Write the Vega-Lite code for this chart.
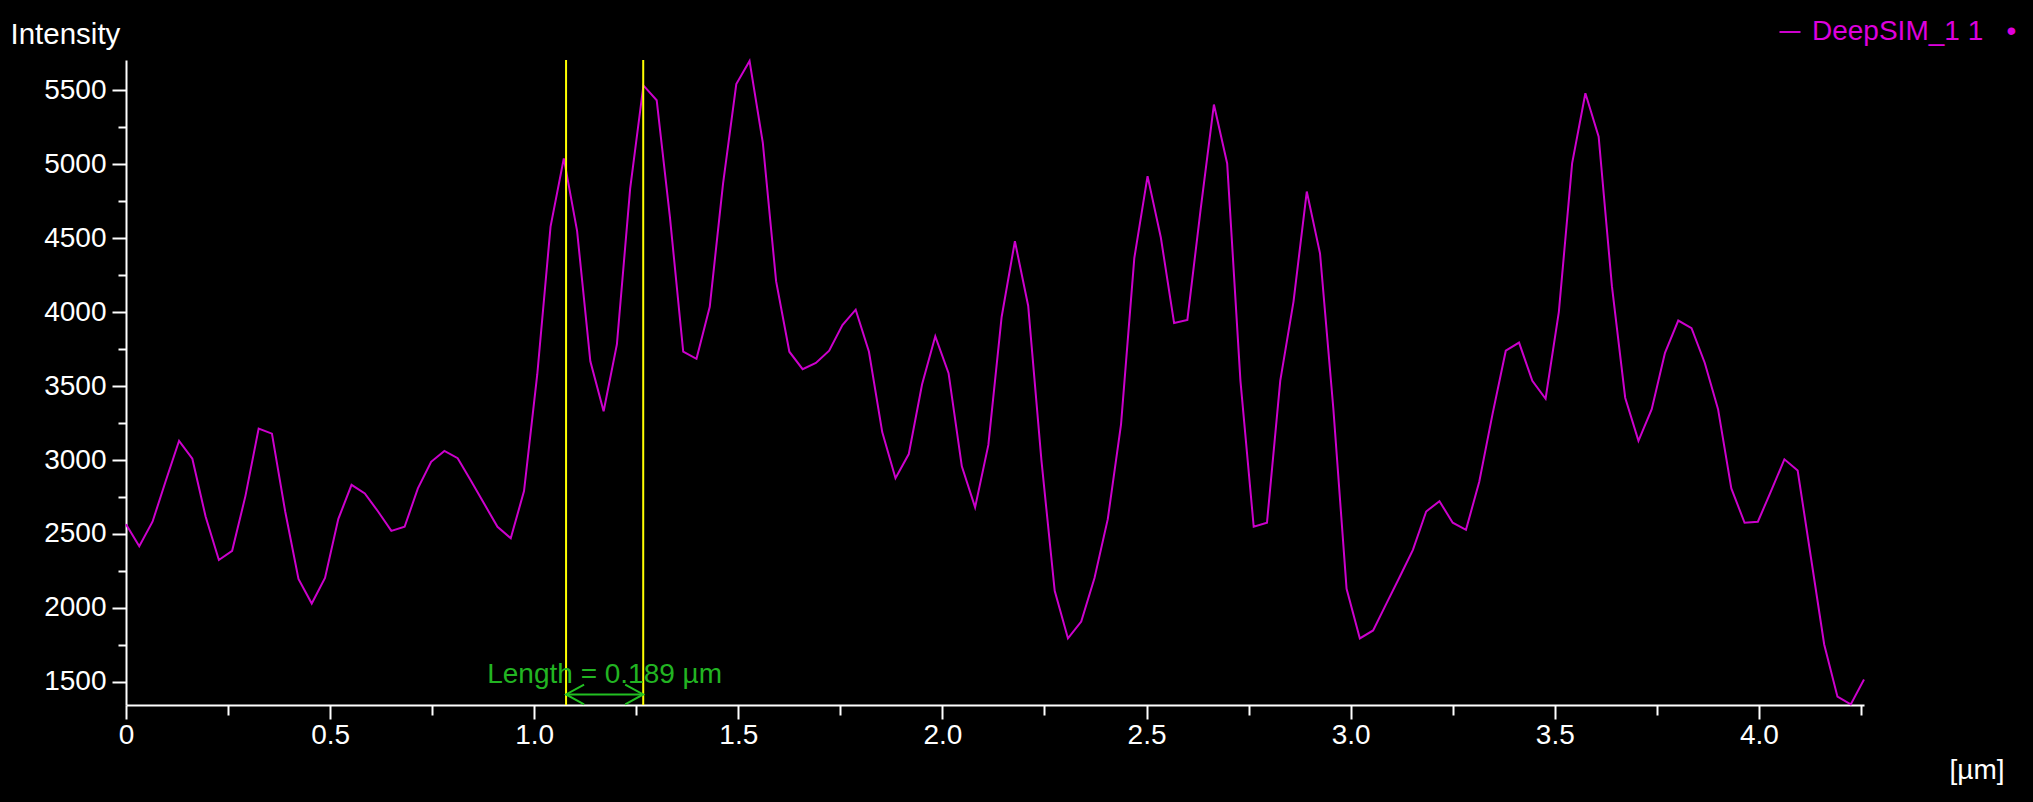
{
  "$schema": "https://vega.github.io/schema/vega-lite/v6.json",
  "background": "#000000",
  "width": 1738,
  "height": 645,
  "autosize": {"type": "none"},
  "padding": {"left": 126, "top": 60, "right": 169, "bottom": 97},
  "config": {
    "view": {"stroke": null},
    "font": "Liberation Sans"
  },
  "datasets": {
    "profile": [
      {"x": 0, "intensity": 2566, "series": "DeepSIM_1 1"},
      {"x": 0.0325, "intensity": 2417, "series": "DeepSIM_1 1"},
      {"x": 0.065, "intensity": 2583, "series": "DeepSIM_1 1"},
      {"x": 0.0975, "intensity": 2860, "series": "DeepSIM_1 1"},
      {"x": 0.13, "intensity": 3130, "series": "DeepSIM_1 1"},
      {"x": 0.1625, "intensity": 3009, "series": "DeepSIM_1 1"},
      {"x": 0.195, "intensity": 2618, "series": "DeepSIM_1 1"},
      {"x": 0.2275, "intensity": 2324, "series": "DeepSIM_1 1"},
      {"x": 0.26, "intensity": 2386, "series": "DeepSIM_1 1"},
      {"x": 0.2925, "intensity": 2756, "series": "DeepSIM_1 1"},
      {"x": 0.325, "intensity": 3213, "series": "DeepSIM_1 1"},
      {"x": 0.3575, "intensity": 3178, "series": "DeepSIM_1 1"},
      {"x": 0.39, "intensity": 2652, "series": "DeepSIM_1 1"},
      {"x": 0.4225, "intensity": 2196, "series": "DeepSIM_1 1"},
      {"x": 0.455, "intensity": 2030, "series": "DeepSIM_1 1"},
      {"x": 0.4875, "intensity": 2203, "series": "DeepSIM_1 1"},
      {"x": 0.52, "intensity": 2601, "series": "DeepSIM_1 1"},
      {"x": 0.5525, "intensity": 2832, "series": "DeepSIM_1 1"},
      {"x": 0.585, "intensity": 2774, "series": "DeepSIM_1 1"},
      {"x": 0.6175, "intensity": 2652, "series": "DeepSIM_1 1"},
      {"x": 0.65, "intensity": 2521, "series": "DeepSIM_1 1"},
      {"x": 0.6825, "intensity": 2549, "series": "DeepSIM_1 1"},
      {"x": 0.715, "intensity": 2808, "series": "DeepSIM_1 1"},
      {"x": 0.7475, "intensity": 2988, "series": "DeepSIM_1 1"},
      {"x": 0.78, "intensity": 3061, "series": "DeepSIM_1 1"},
      {"x": 0.8125, "intensity": 3012, "series": "DeepSIM_1 1"},
      {"x": 0.845, "intensity": 2860, "series": "DeepSIM_1 1"},
      {"x": 0.8775, "intensity": 2704, "series": "DeepSIM_1 1"},
      {"x": 0.91, "intensity": 2549, "series": "DeepSIM_1 1"},
      {"x": 0.9425, "intensity": 2471, "series": "DeepSIM_1 1"},
      {"x": 0.975, "intensity": 2790, "series": "DeepSIM_1 1"},
      {"x": 1.0075, "intensity": 3580, "series": "DeepSIM_1 1"},
      {"x": 1.04, "intensity": 4578, "series": "DeepSIM_1 1"},
      {"x": 1.0725, "intensity": 5039, "series": "DeepSIM_1 1"},
      {"x": 1.105, "intensity": 4549, "series": "DeepSIM_1 1"},
      {"x": 1.1375, "intensity": 3667, "series": "DeepSIM_1 1"},
      {"x": 1.17, "intensity": 3330, "series": "DeepSIM_1 1"},
      {"x": 1.2025, "intensity": 3781, "series": "DeepSIM_1 1"},
      {"x": 1.235, "intensity": 4834, "series": "DeepSIM_1 1"},
      {"x": 1.2675, "intensity": 5532, "series": "DeepSIM_1 1"},
      {"x": 1.3, "intensity": 5432, "series": "DeepSIM_1 1"},
      {"x": 1.3325, "intensity": 4640, "series": "DeepSIM_1 1"},
      {"x": 1.365, "intensity": 3732, "series": "DeepSIM_1 1"},
      {"x": 1.3975, "intensity": 3684, "series": "DeepSIM_1 1"},
      {"x": 1.43, "intensity": 4036, "series": "DeepSIM_1 1"},
      {"x": 1.4625, "intensity": 4867, "series": "DeepSIM_1 1"},
      {"x": 1.495, "intensity": 5541, "series": "DeepSIM_1 1"},
      {"x": 1.5275, "intensity": 5697, "series": "DeepSIM_1 1"},
      {"x": 1.56, "intensity": 5144, "series": "DeepSIM_1 1"},
      {"x": 1.5925, "intensity": 4209, "series": "DeepSIM_1 1"},
      {"x": 1.625, "intensity": 3732, "series": "DeepSIM_1 1"},
      {"x": 1.6575, "intensity": 3614, "series": "DeepSIM_1 1"},
      {"x": 1.69, "intensity": 3656, "series": "DeepSIM_1 1"},
      {"x": 1.7225, "intensity": 3739, "series": "DeepSIM_1 1"},
      {"x": 1.755, "intensity": 3912, "series": "DeepSIM_1 1"},
      {"x": 1.7875, "intensity": 4016, "series": "DeepSIM_1 1"},
      {"x": 1.82, "intensity": 3732, "series": "DeepSIM_1 1"},
      {"x": 1.8525, "intensity": 3189, "series": "DeepSIM_1 1"},
      {"x": 1.885, "intensity": 2877, "series": "DeepSIM_1 1"},
      {"x": 1.9175, "intensity": 3040, "series": "DeepSIM_1 1"},
      {"x": 1.95, "intensity": 3510, "series": "DeepSIM_1 1"},
      {"x": 1.9825, "intensity": 3836, "series": "DeepSIM_1 1"},
      {"x": 2.015, "intensity": 3587, "series": "DeepSIM_1 1"},
      {"x": 2.0475, "intensity": 2957, "series": "DeepSIM_1 1"},
      {"x": 2.08, "intensity": 2680, "series": "DeepSIM_1 1"},
      {"x": 2.1125, "intensity": 3102, "series": "DeepSIM_1 1"},
      {"x": 2.145, "intensity": 3967, "series": "DeepSIM_1 1"},
      {"x": 2.1775, "intensity": 4479, "series": "DeepSIM_1 1"},
      {"x": 2.21, "intensity": 4043, "series": "DeepSIM_1 1"},
      {"x": 2.2425, "intensity": 2998, "series": "DeepSIM_1 1"},
      {"x": 2.275, "intensity": 2116, "series": "DeepSIM_1 1"},
      {"x": 2.3075, "intensity": 1794, "series": "DeepSIM_1 1"},
      {"x": 2.34, "intensity": 1908, "series": "DeepSIM_1 1"},
      {"x": 2.3725, "intensity": 2203, "series": "DeepSIM_1 1"},
      {"x": 2.405, "intensity": 2600, "series": "DeepSIM_1 1"},
      {"x": 2.4375, "intensity": 3241, "series": "DeepSIM_1 1"},
      {"x": 2.47, "intensity": 4365, "series": "DeepSIM_1 1"},
      {"x": 2.5025, "intensity": 4919, "series": "DeepSIM_1 1"},
      {"x": 2.535, "intensity": 4504, "series": "DeepSIM_1 1"},
      {"x": 2.5675, "intensity": 3926, "series": "DeepSIM_1 1"},
      {"x": 2.6, "intensity": 3947, "series": "DeepSIM_1 1"},
      {"x": 2.6325, "intensity": 4694, "series": "DeepSIM_1 1"},
      {"x": 2.665, "intensity": 5403, "series": "DeepSIM_1 1"},
      {"x": 2.6975, "intensity": 5005, "series": "DeepSIM_1 1"},
      {"x": 2.73, "intensity": 3535, "series": "DeepSIM_1 1"},
      {"x": 2.7625, "intensity": 2549, "series": "DeepSIM_1 1"},
      {"x": 2.795, "intensity": 2576, "series": "DeepSIM_1 1"},
      {"x": 2.8275, "intensity": 3535, "series": "DeepSIM_1 1"},
      {"x": 2.86, "intensity": 4071, "series": "DeepSIM_1 1"},
      {"x": 2.8925, "intensity": 4815, "series": "DeepSIM_1 1"},
      {"x": 2.925, "intensity": 4395, "series": "DeepSIM_1 1"},
      {"x": 2.9575, "intensity": 3350, "series": "DeepSIM_1 1"},
      {"x": 2.99, "intensity": 2130, "series": "DeepSIM_1 1"},
      {"x": 3.0225, "intensity": 1794, "series": "DeepSIM_1 1"},
      {"x": 3.055, "intensity": 1848, "series": "DeepSIM_1 1"},
      {"x": 3.0875, "intensity": 2029, "series": "DeepSIM_1 1"},
      {"x": 3.12, "intensity": 2209, "series": "DeepSIM_1 1"},
      {"x": 3.1525, "intensity": 2393, "series": "DeepSIM_1 1"},
      {"x": 3.185, "intensity": 2652, "series": "DeepSIM_1 1"},
      {"x": 3.2175, "intensity": 2722, "series": "DeepSIM_1 1"},
      {"x": 3.25, "intensity": 2576, "series": "DeepSIM_1 1"},
      {"x": 3.2825, "intensity": 2528, "series": "DeepSIM_1 1"},
      {"x": 3.315, "intensity": 2853, "series": "DeepSIM_1 1"},
      {"x": 3.3475, "intensity": 3310, "series": "DeepSIM_1 1"},
      {"x": 3.38, "intensity": 3739, "series": "DeepSIM_1 1"},
      {"x": 3.4125, "intensity": 3794, "series": "DeepSIM_1 1"},
      {"x": 3.445, "intensity": 3535, "series": "DeepSIM_1 1"},
      {"x": 3.4775, "intensity": 3414, "series": "DeepSIM_1 1"},
      {"x": 3.51, "intensity": 4002, "series": "DeepSIM_1 1"},
      {"x": 3.5425, "intensity": 5005, "series": "DeepSIM_1 1"},
      {"x": 3.575, "intensity": 5479, "series": "DeepSIM_1 1"},
      {"x": 3.6075, "intensity": 5185, "series": "DeepSIM_1 1"},
      {"x": 3.64, "intensity": 4175, "series": "DeepSIM_1 1"},
      {"x": 3.6725, "intensity": 3421, "series": "DeepSIM_1 1"},
      {"x": 3.705, "intensity": 3130, "series": "DeepSIM_1 1"},
      {"x": 3.7375, "intensity": 3344, "series": "DeepSIM_1 1"},
      {"x": 3.77, "intensity": 3725, "series": "DeepSIM_1 1"},
      {"x": 3.8025, "intensity": 3943, "series": "DeepSIM_1 1"},
      {"x": 3.835, "intensity": 3891, "series": "DeepSIM_1 1"},
      {"x": 3.8675, "intensity": 3656, "series": "DeepSIM_1 1"},
      {"x": 3.9, "intensity": 3344, "series": "DeepSIM_1 1"},
      {"x": 3.9325, "intensity": 2808, "series": "DeepSIM_1 1"},
      {"x": 3.965, "intensity": 2576, "series": "DeepSIM_1 1"},
      {"x": 3.9975, "intensity": 2583, "series": "DeepSIM_1 1"},
      {"x": 4.03, "intensity": 2791, "series": "DeepSIM_1 1"},
      {"x": 4.0625, "intensity": 3005, "series": "DeepSIM_1 1"},
      {"x": 4.095, "intensity": 2929, "series": "DeepSIM_1 1"},
      {"x": 4.1275, "intensity": 2341, "series": "DeepSIM_1 1"},
      {"x": 4.16, "intensity": 1753, "series": "DeepSIM_1 1"},
      {"x": 4.1925, "intensity": 1400, "series": "DeepSIM_1 1"},
      {"x": 4.225, "intensity": 1348, "series": "DeepSIM_1 1"},
      {"x": 4.2575, "intensity": 1517, "series": "DeepSIM_1 1"}
    ],
    "cursors": [{"x": 1.078}, {"x": 1.267}],
    "arrow": [{"x": 1.078, "x2": 1.267, "intensity": 1415, "mid": 1.1725, "texty": 1491, "label": "Length = 0.189 µm"}],
    "heads": [
      {"x": 1.078, "intensity": 1415, "dir": "left"},
      {"x": 1.267, "intensity": 1415, "dir": "right"}
    ]
  },
  "layer": [
    {
      "data": {"name": "profile"},
      "mark": {"type": "line", "strokeWidth": 2, "interpolate": "linear"},
      "encoding": {
        "x": {
          "field": "x", "type": "quantitative", "title": "[µm]",
          "scale": {"domain": [0, 4.2575], "nice": false, "zero": false},
          "axis": {
            "values": [0, 0.25, 0.5, 0.75, 1, 1.25, 1.5, 1.75, 2, 2.25, 2.5, 2.75, 3, 3.25, 3.5, 3.75, 4, 4.25],
            "labelExpr": "datum.value % 0.5 === 0 ? (datum.value === 0 ? '0' : format(datum.value, '.1f')) : ''",
            "tickSize": {"condition": {"test": "datum.value % 0.5 === 0", "value": 14}, "value": 10},
            "tickColor": "#ffffff", "tickWidth": 2,
            "domainColor": "#ffffff", "domainWidth": 2,
            "grid": false,
            "labelFont": "Liberation Sans", "labelFontSize": 28, "labelColor": "#ffffff",
            "labelPadding": 2, "labelFlush": false, "labelOverlap": false,
            "titleFont": "Liberation Sans", "titleFontSize": 28, "titleFontWeight": "normal", "titleColor": "#ffffff",
            "titleAnchor": "start", "titleAlign": "left", "titleBaseline": "alphabetic",
            "titleX": 1823, "titleY": 73
          }
        },
        "y": {
          "field": "intensity", "type": "quantitative", "title": "Intensity",
          "scale": {"domain": [1344, 5704], "nice": false, "zero": false},
          "axis": {
            "values": [1500, 1750, 2000, 2250, 2500, 2750, 3000, 3250, 3500, 3750, 4000, 4250, 4500, 4750, 5000, 5250, 5500],
            "format": "d",
            "labelExpr": "datum.value % 500 === 0 ? datum.label : ''",
            "tickSize": {"condition": {"test": "datum.value % 500 === 0", "value": 14}, "value": 8},
            "tickColor": "#ffffff", "tickWidth": 2,
            "domainColor": "#ffffff", "domainWidth": 2,
            "grid": false,
            "labelFont": "Liberation Sans", "labelFontSize": 28, "labelColor": "#ffffff",
            "labelPadding": 6, "labelFlush": false, "labelOverlap": false,
            "titleFont": "Liberation Sans", "titleFontSize": 29.5, "titleFontWeight": "normal", "titleColor": "#ffffff",
            "titleAngle": 0, "titleAnchor": "start", "titleAlign": "left", "titleBaseline": "alphabetic",
            "titleX": -116, "titleY": -17
          }
        },
        "color": {
          "field": "series", "type": "nominal",
          "scale": {"range": ["#cc00cc"]},
          "legend": {
            "orient": "none", "legendX": 1650, "legendY": -42, "title": null,
            "symbolType": "stroke", "symbolSize": 441, "symbolStrokeWidth": 2,
            "labelFont": "Liberation Sans", "labelFontSize": 28, "labelColor": "#dd00dd",
            "labelLimit": 400,
            "labelExpr": "datum.label + '\u00a0\u00a0\u00a0•'", "labelOffset": 8, "padding": 0
          }
        }
      }
    },
    {
      "data": {"name": "cursors"},
      "mark": {"type": "rule", "color": "#ffff00", "strokeWidth": 2},
      "encoding": {
        "x": {"field": "x", "type": "quantitative", "title": "[µm]"}
      }
    },
    {
      "data": {"name": "arrow"},
      "mark": {"type": "rule", "color": "#22c022", "strokeWidth": 2},
      "encoding": {
        "x": {"field": "x", "type": "quantitative", "title": "[µm]"},
        "x2": {"field": "x2"},
        "y": {"field": "intensity", "type": "quantitative", "title": "Intensity"}
      }
    },
    {
      "data": {"name": "heads"},
      "mark": {"type": "point", "filled": false, "strokeWidth": 2, "color": "#22c022", "size": 324, "opacity": 1},
      "encoding": {
        "x": {"field": "x", "type": "quantitative", "title": "[µm]"},
        "y": {"field": "intensity", "type": "quantitative", "title": "Intensity"},
        "shape": {
          "field": "dir", "type": "nominal", "legend": null,
          "scale": {"domain": ["left", "right"], "range": ["M 2 -1.1 L 0 0 L 2 1.1", "M -2 -1.1 L 0 0 L -2 1.1"]}
        }
      }
    },
    {
      "data": {"name": "arrow"},
      "mark": {"type": "text", "color": "#22b422", "font": "Liberation Sans", "fontSize": 28, "align": "center", "baseline": "alphabetic"},
      "encoding": {
        "x": {"field": "mid", "type": "quantitative", "title": "[µm]"},
        "y": {"field": "texty", "type": "quantitative", "title": "Intensity"},
        "text": {"field": "label"}
      }
    }
  ]
}
